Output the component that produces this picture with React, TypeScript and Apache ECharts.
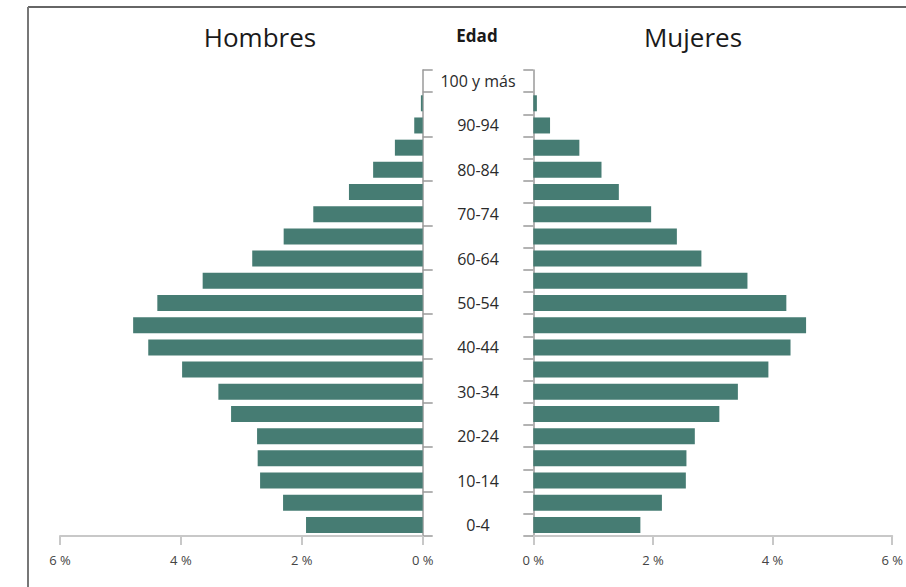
import React, { useEffect, useRef } from "react";
import * as echarts from "echarts";

const categories = [
  "0-4", "5-9", "10-14", "15-19", "20-24", "25-29", "30-34", "35-39", "40-44", "45-49",
  "50-54", "55-59", "60-64", "65-69", "70-74", "75-79", "80-84", "85-89", "90-94", "95-99", "100 y más",
];
const hombres = [
  1.93, 2.31, 2.69, 2.73, 2.74, 3.17, 3.38, 3.98, 4.54, 4.79,
  4.39, 3.64, 2.82, 2.30, 1.81, 1.22, 0.82, 0.46, 0.14, 0.03, 0,
];
const mujeres = [
  1.79, 2.15, 2.55, 2.56, 2.70, 3.11, 3.42, 3.93, 4.30, 4.56,
  4.23, 3.58, 2.81, 2.40, 1.97, 1.43, 1.14, 0.77, 0.28, 0.06, 0,
];
const xTicks = { min: 0, max: 6, interval: 2 };
const titleLeft = "Hombres";
const titleCenter = "Edad";
const titleRight = "Mujeres";

const FONT = "'Open Sans', 'DejaVu Sans', sans-serif";
const BAR = "#467c73";
const AXIS = "#c8c8c8";
const TICK = "#9a9a9a";

export default function App() {
  const ref = useRef<HTMLDivElement>(null);
  useEffect(() => {
    if (!ref.current) return;
    const chart = echarts.init(ref.current, null, { renderer: "svg" });
    const xAxisCommon = {
      type: "value",
      min: xTicks.min,
      max: xTicks.max,
      interval: xTicks.interval,
      splitLine: { show: false },
      axisLine: { show: true, lineStyle: { color: AXIS, width: 2 } },
      axisTick: { show: true, length: 9, lineStyle: { color: AXIS, width: 2 } },
      axisLabel: {
        formatter: "{value} %",
        color: "#444",
        fontSize: 13,
        fontFamily: FONT,
        margin: 17,
      },
    };
    chart.setOption({
      animation: false,
      backgroundColor: "#ffffff",
      grid: [
        { left: 60, right: 483.3, top: 70, bottom: 51, containLabel: false },
        { left: 533.3, right: 10, top: 70, bottom: 51, containLabel: false },
      ],
      xAxis: [
        { ...xAxisCommon, gridIndex: 0, inverse: true },
        { ...xAxisCommon, gridIndex: 1 },
      ],
      yAxis: [
        {
          type: "category",
          gridIndex: 0,
          position: "right",
          data: categories,
          axisLine: { show: true, lineStyle: { color: TICK, width: 1.5 } },
          axisTick: { show: true, length: 10, inside: false, lineStyle: { color: TICK, width: 1.5 } },
          axisLabel: {
            interval: 1,
            align: "center",
            margin: 55.3,
            color: "#2a2a2a",
            fontSize: 16,
            fontFamily: FONT,
          },
        },
        {
          type: "category",
          gridIndex: 1,
          position: "left",
          data: categories,
          axisLine: { show: true, lineStyle: { color: TICK, width: 1.5 } },
          axisTick: { show: true, length: 10, inside: false, lineStyle: { color: TICK, width: 1.5 } },
          axisLabel: { show: false },
        },
      ],
      series: [
        {
          name: titleLeft,
          type: "bar",
          xAxisIndex: 0,
          yAxisIndex: 0,
          data: hombres,
          barWidth: 16,
          itemStyle: { color: BAR },
        },
        {
          name: titleRight,
          type: "bar",
          xAxisIndex: 1,
          yAxisIndex: 1,
          data: mujeres,
          barWidth: 16,
          itemStyle: { color: BAR },
        },
      ],
      graphic: [
        { type: "line", shape: { x1: 28, y1: 7, x2: 906, y2: 7 }, style: { stroke: "#333", lineWidth: 1.5 } },
        { type: "line", shape: { x1: 28, y1: 7, x2: 28, y2: 587 }, style: { stroke: "#777", lineWidth: 2 } },
        {
          type: "text",
          x: 260,
          y: 37,
          style: { text: titleLeft, fill: "#1a1a1a", fontSize: 26, fontFamily: FONT, textAlign: "center", textVerticalAlign: "middle" },
        },
        {
          type: "text",
          x: 477,
          y: 35.5,
          style: { text: titleCenter, fill: "#1a1a1a", fontSize: 17, fontWeight: "bold", fontFamily: FONT, textAlign: "center", textVerticalAlign: "middle" },
        },
        {
          type: "text",
          x: 693,
          y: 37,
          style: { text: titleRight, fill: "#1a1a1a", fontSize: 26, fontFamily: FONT, textAlign: "center", textVerticalAlign: "middle" },
        },
      ],
    });
    return () => chart.dispose();
  }, []);
  return (
    <div
      ref={ref}
      style={{ position: "fixed", left: 0, top: 0, width: 906, height: 587 }}
    />
  );
}
